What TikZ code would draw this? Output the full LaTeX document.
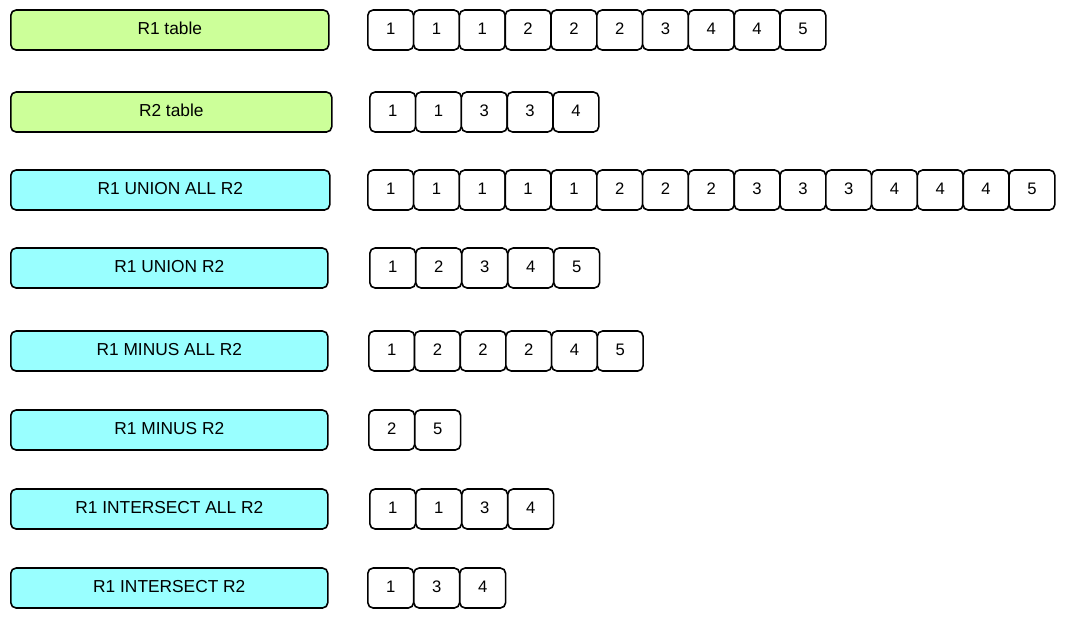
\documentclass[tikz,border=0pt]{standalone}
\usepackage{fontspec}
\setmainfont{Liberation Sans}
\definecolor{lgreen}{HTML}{CCFF99}
\definecolor{lcyan}{HTML}{99FFFF}
\tikzset{
  lbl/.style={draw=black, line width=1.2pt, rounded corners=4pt, minimum height=30pt,
    inner sep=0pt, font=\fontsize{13}{15}\selectfont, anchor=west,
    text height=9.3pt, text depth=2.5pt},
  grn/.style={lbl, fill=lgreen},
  cyn/.style={lbl, fill=lcyan},
  cell/.style={draw=black, line width=1.2pt, rounded corners=4pt, fill=white,
    minimum width=34.35pt, minimum height=30pt, inner sep=0pt, anchor=west,
    font=\fontsize{12.5}{15}\selectfont, text height=9pt, text depth=2.5pt},
}
\begin{document}
\begin{tikzpicture}[x=0.75pt,y=-0.75pt]
\useasboundingbox (0,0) rectangle (1066,618);
% labels
\node[grn, minimum width=238.5pt]  (L1) at (10,30)  {R1 table};
\node[grn, minimum width=240.75pt] (L2) at (10,112) {R2 table};
\node[cyn, minimum width=239.25pt] (L3) at (10,190) {R1 UNION ALL R2};
\node[cyn, minimum width=237.75pt] (L4) at (10,268) {R1 UNION R2};
\node[cyn, minimum width=237.75pt] (L5) at (10,351) {R1 MINUS ALL R2};
\node[cyn, minimum width=237.75pt] (L6) at (10,430) {R1 MINUS R2};
\node[cyn, minimum width=237.75pt] (L7) at (10,509) {R1 INTERSECT ALL R2};
\node[cyn, minimum width=237.75pt] (L8) at (10,588) {R1 INTERSECT R2};
% cells
\foreach \v [count=\i] in {1,1,1,2,2,2,3,4,4,5}
  \node[cell] (a\i) at ({367+(\i-1)*45.8},30) {\v};
\foreach \v [count=\i] in {1,1,3,3,4}
  \node[cell] (b\i) at ({369+(\i-1)*45.8},112) {\v};
\foreach \v [count=\i] in {1,1,1,1,1,2,2,2,3,3,3,4,4,4,5}
  \node[cell] (c\i) at ({367+(\i-1)*45.8},190) {\v};
\foreach \v [count=\i] in {1,2,3,4,5}
  \node[cell] (d\i) at ({369+(\i-1)*46},268) {\v};
\foreach \v [count=\i] in {1,2,2,2,4,5}
  \node[cell] (e\i) at ({368+(\i-1)*45.7},351) {\v};
\foreach \v [count=\i] in {2,5}
  \node[cell] (f\i) at ({368+(\i-1)*46},430) {\v};
\foreach \v [count=\i] in {1,1,3,4}
  \node[cell] (g\i) at ({369+(\i-1)*46},509) {\v};
\foreach \v [count=\i] in {1,3,4}
  \node[cell] (h\i) at ({367+(\i-1)*46},588) {\v};
\end{tikzpicture}
\end{document}
